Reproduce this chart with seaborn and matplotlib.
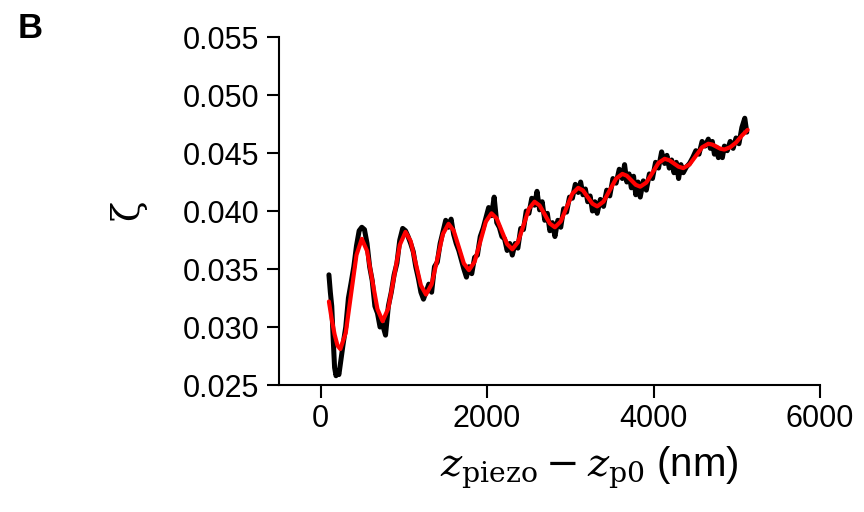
import matplotlib
matplotlib.use("Agg")
import matplotlib.pyplot as plt
import seaborn as sns
import pandas as pd

# ---- data ----
fit_x = [100, 134, 168, 203, 237, 302, 366, 431, 495, 558, 620, 683, 745, 814, 883, 951,
         1020, 1082, 1143, 1205, 1266, 1334, 1402, 1469, 1537, 1598, 1660, 1721, 1782,
         1850, 1918, 1985, 2053, 2116, 2178, 2241, 2303, 2370, 2437, 2503, 2570, 2631,
         2693, 2754, 2815, 2885, 2955, 3025, 3095, 3152, 3209, 3266, 3323, 3399, 3474,
         3550, 3625, 3679, 3733, 3786, 3840, 3913, 3987, 4060, 4133, 4189, 4245, 4301,
         4357, 4432, 4508, 4583, 4658, 4706, 4755, 4803, 4851, 4921, 4991, 5061, 5131]
fit_y = [.0322, .03065, .02936, .0284, .0281, .02949, .03285, .03621, .0376, .03656,
         .03405, .03154, .0305, .03162, .03435, .03707, .0382, .03741, .0355, .03359,
         .0328, .03369, .03585, .03801, .0389, .03832, .0369, .03548, .0349, .03562,
         .03735, .03908, .0398, .03935, .03825, .03715, .0367, .0373, .03875, .0402,
         .0408, .04048, .0397, .03892, .0386, .0391, .0403, .0415, .0420, .04177, .0412,
         .04063, .0404, .04081, .0418, .04279, .0432, .04304, .04265, .04226, .0421,
         .04245, .0433, .04415, .0445, .04438, .0441, .04382, .0437, .04401, .04475,
         .04549, .0458, .04573, .04555, .04537, .0453, .0455, .0459, .0465, .0470]

data_x = [100, 117, 134, 151, 168, 185, 203, 220, 237, 270, 302, 334, 366, 399, 431, 463,
          495, 527, 558, 589, 620, 652, 683, 714, 745, 780, 814, 849, 883, 917, 951, 986,
          1020, 1051, 1082, 1113, 1143, 1174, 1205, 1236, 1266, 1300, 1334, 1368, 1402,
          1436, 1469, 1503, 1537, 1568, 1598, 1629, 1660, 1691, 1721, 1752, 1782, 1816,
          1850, 1884, 1918, 1952, 1985, 2019, 2053, 2085, 2116, 2147, 2178, 2210, 2241,
          2272, 2303, 2337, 2370, 2404, 2437, 2470, 2503, 2537, 2570, 2600, 2631, 2662,
          2693, 2724, 2754, 2785, 2815, 2850, 2885, 2920, 2955, 2990, 3025, 3060, 3095,
          3124, 3152, 3181, 3209, 3238, 3266, 3295, 3323, 3361, 3399, 3437, 3474, 3512,
          3550, 3588, 3625, 3652, 3679, 3706, 3733, 3760, 3786, 3813, 3840, 3877, 3913,
          3950, 3987, 4024, 4060, 4097, 4133, 4161, 4189, 4217, 4245, 4273, 4301, 4329,
          4357, 4395, 4432, 4470, 4508, 4546, 4583, 4620, 4658, 4682, 4706, 4731, 4755,
          4779, 4803, 4827, 4851, 4886, 4921, 4956, 4991, 5026, 5061, 5096, 5120]
data_y = [.0345, .0330, .0318, .0290, .0265, .0258, .0262, .0259, .0268, .0285, .0300,
          .0325, .0338, .0352, .0370, .0383, .0386, .0384, .0372, .0352, .0340, .0318,
          .0312, .0300, .0302, .0293, .0318, .0330, .0345, .0355, .0375, .0385, .0383,
          .0378, .0372, .0365, .0352, .0342, .0330, .0324, .0330, .0337, .0330, .0352,
          .0356, .0372, .0382, .0392, .0386, .0393, .0380, .0372, .0366, .0358, .0350,
          .0343, .0352, .0346, .0360, .0362, .0378, .0385, .0394, .0403, .0396, .0412,
          .0390, .0386, .0378, .0376, .0366, .0372, .0362, .0372, .0368, .0385, .0384,
          .0400, .0398, .0411, .0405, .0417, .0401, .0408, .0392, .0398, .0383, .0390,
          .0378, .0392, .0386, .0402, .0399, .0412, .0411, .0423, .0416, .0425, .0414,
          .0419, .0408, .0413, .0400, .0408, .0398, .0410, .0404, .0418, .0413, .0428,
          .0424, .0436, .0428, .0440, .0425, .0432, .0420, .0430, .0414, .0425, .0412,
          .0426, .0418, .0432, .0428, .0442, .0437, .0451, .0441, .0448, .0437, .0444,
          .0433, .0442, .0428, .0440, .0433, .0438, .0441, .0446, .0452, .0449, .0460,
          .0456, .0462, .0454, .0460, .0449, .0455, .0446, .0452, .0446, .0456, .0452,
          .0460, .0454, .0463, .0458, .0472, .0480, .0468]

x_ticks = [0, 2000, 4000, 6000]
y_ticks = [0.025, 0.030, 0.035, 0.040, 0.045, 0.050, 0.055]

sns.set_style("ticks")
plt.rcParams['font.family'] = ['Liberation Sans', 'DejaVu Sans']
plt.rcParams['mathtext.fontset'] = 'dejavuserif'
plt.rcParams['text.color'] = 'black'

fig = plt.figure(figsize=(8.64, 5.12), dpi=100)
ax = fig.add_axes([0.3229, 0.248, 0.6262, 0.6797])

df_data = pd.DataFrame({"x": data_x, "y": data_y})
df_fit = pd.DataFrame({"x": fit_x, "y": fit_y})
sns.lineplot(data=df_data, x="x", y="y", color="black", linewidth=3.6,
             estimator=None, sort=False, ax=ax)
sns.lineplot(data=df_fit, x="x", y="y", color="#ff0000", linewidth=3.0,
             estimator=None, sort=False, ax=ax)

ax.set_xlim(-500, 6000)
ax.set_ylim(0.025, 0.055)
ax.set_xticks(x_ticks)
ax.set_yticks(y_ticks)
ax.set_xticklabels([str(v) for v in x_ticks])
ax.set_yticklabels([f"{v:.3f}" for v in y_ticks])
ax.tick_params(axis='both', direction='out', length=9, width=1.5, labelsize=22,
               colors='black', labelcolor='black', pad=5)
for s in ['left', 'bottom']:
    ax.spines[s].set_linewidth(1.5)
    ax.spines[s].set_color('black')
sns.despine(ax=ax)
ax.set_xlabel("")
ax.set_ylabel("")

fig.text(0.148, 0.59, "ζ", rotation=90, fontsize=27, family='DejaVu Serif',
         color='black', ha='center', va='center')
fig.text(0.682, 0.087, r"$z_{\mathrm{piezo}} - z_{\mathrm{p0}}$ (nm)", fontsize=29,
         color='black', ha='center', va='center')
fig.text(0.020, 0.945, "B", fontsize=25, fontweight='bold', color='black',
         ha='left', va='center')

fig.savefig("out.png", dpi=100)
